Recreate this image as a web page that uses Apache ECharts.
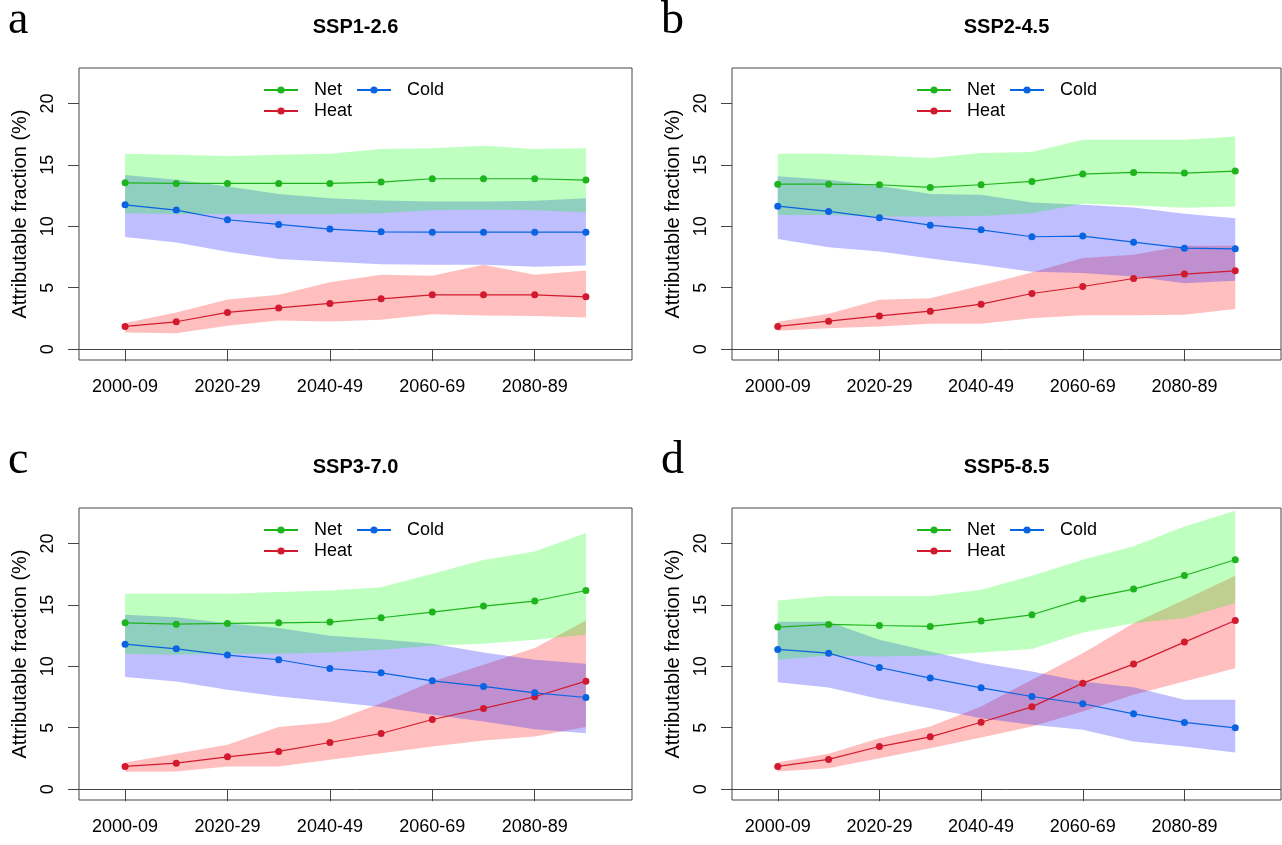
<!DOCTYPE html>
<html>
<head>
<meta charset="utf-8">
<script src="https://cdn.jsdelivr.net/npm/echarts@6/dist/echarts.min.js"></script>
<style>
  html, body { margin: 0; padding: 0; background: #fff; }
  #chart { width: 1282px; height: 845px; }
</style>
</head>
<body>
<div id="chart"></div>
<script>
// decade index 1..10 (2000-09 ... 2090-99)
var decades = [1, 2, 3, 4, 5, 6, 7, 8, 9, 10];
var tickPos = [1, 3, 5, 7, 9];
var tickLabels = ['2000-09', '2020-29', '2040-49', '2060-69', '2080-89'];
var yTicks = [0, 5, 10, 15, 20];

// SSP1-2.6
var a_net    = [13.54, 13.49, 13.49, 13.49, 13.49, 13.60, 13.87, 13.87, 13.87, 13.76];
var a_netHi  = [15.90, 15.82, 15.71, 15.82, 15.90, 16.28, 16.34, 16.55, 16.28, 16.36];
var a_netLo  = [11.07, 11.00, 11.00, 11.00, 11.00, 11.07, 11.30, 11.34, 11.30, 11.13];
var a_cold   = [11.75, 11.32, 10.53, 10.15, 9.77, 9.55, 9.52, 9.52, 9.52, 9.52];
var a_coldHi = [14.17, 13.79, 13.24, 12.62, 12.29, 12.10, 12.02, 12.02, 12.08, 12.29];
var a_coldLo = [9.12, 8.68, 7.92, 7.33, 7.11, 6.92, 6.87, 6.87, 6.70, 6.81];
var a_heat   = [1.85, 2.23, 2.99, 3.36, 3.72, 4.10, 4.42, 4.42, 4.42, 4.26];
var a_heatHi = [2.14, 2.99, 4.04, 4.42, 5.45, 6.05, 5.97, 6.87, 6.05, 6.40];
var a_heatLo = [1.36, 1.30, 1.90, 2.33, 2.25, 2.39, 2.85, 2.74, 2.71, 2.58];

// SSP2-4.5
var b_net    = [13.43, 13.43, 13.38, 13.16, 13.38, 13.65, 14.25, 14.38, 14.33, 14.49];
var b_netHi  = [15.90, 15.90, 15.77, 15.55, 15.96, 16.04, 17.04, 17.04, 17.04, 17.31];
var b_netLo  = [10.91, 10.91, 10.80, 10.80, 10.83, 11.07, 11.83, 11.70, 11.51, 11.61];
var b_cold   = [11.64, 11.21, 10.69, 10.09, 9.71, 9.15, 9.20, 8.71, 8.22, 8.17];
var b_coldHi = [14.08, 13.79, 13.30, 12.62, 12.56, 11.94, 11.75, 11.53, 11.02, 10.66];
var b_coldLo = [8.96, 8.30, 7.95, 7.38, 6.87, 6.30, 6.19, 5.92, 5.37, 5.56];
var b_heat   = [1.85, 2.28, 2.71, 3.09, 3.66, 4.53, 5.10, 5.75, 6.11, 6.38];
var b_heatHi = [2.23, 2.88, 4.02, 4.15, 5.18, 6.24, 7.41, 7.68, 8.41, 8.41];
var b_heatLo = [1.49, 1.71, 1.85, 2.06, 2.06, 2.52, 2.77, 2.77, 2.80, 3.28];

// SSP3-7.0
var c_net    = [13.54, 13.43, 13.49, 13.54, 13.60, 13.95, 14.41, 14.90, 15.31, 16.17];
var c_netHi  = [15.90, 15.90, 15.90, 16.04, 16.17, 16.44, 17.53, 18.64, 19.35, 20.84];
var c_netLo  = [11.02, 10.94, 11.02, 11.02, 11.13, 11.34, 11.67, 11.83, 12.16, 12.56];
var c_cold   = [11.80, 11.42, 10.91, 10.53, 9.82, 9.47, 8.82, 8.36, 7.84, 7.46];
var c_coldHi = [14.19, 14.00, 13.51, 13.11, 12.48, 12.21, 11.83, 11.13, 10.53, 10.20];
var c_coldLo = [9.12, 8.77, 8.09, 7.54, 7.14, 6.68, 6.05, 5.51, 4.88, 4.56];
var c_heat   = [1.85, 2.12, 2.63, 3.07, 3.80, 4.53, 5.67, 6.57, 7.52, 8.79];
var c_heatHi = [2.17, 2.88, 3.61, 5.05, 5.45, 7.00, 8.77, 10.12, 11.48, 13.73];
var c_heatLo = [1.41, 1.44, 1.85, 1.85, 2.39, 2.93, 3.47, 3.96, 4.29, 5.05];

// SSP5-8.5
var d_net    = [13.19, 13.41, 13.32, 13.24, 13.68, 14.19, 15.47, 16.28, 17.39, 18.67];
var d_netHi  = [15.36, 15.71, 15.71, 15.71, 16.23, 17.37, 18.67, 19.76, 21.38, 22.66];
var d_netLo  = [10.53, 10.88, 10.80, 10.88, 11.13, 11.40, 12.75, 13.51, 13.92, 15.14];
var d_cold   = [11.37, 11.07, 9.90, 9.04, 8.25, 7.54, 6.95, 6.13, 5.43, 4.99];
var d_coldHi = [13.62, 13.62, 12.16, 11.21, 10.26, 9.58, 8.77, 8.30, 7.27, 7.27];
var d_coldLo = [8.71, 8.28, 7.33, 6.59, 5.78, 5.24, 4.83, 3.88, 3.47, 2.99];
var d_heat   = [1.85, 2.42, 3.47, 4.26, 5.45, 6.70, 8.63, 10.18, 11.97, 13.73];
var d_heatHi = [2.20, 2.88, 4.15, 5.10, 6.73, 8.90, 11.07, 13.51, 15.41, 17.37];
var d_heatLo = [1.44, 1.71, 2.52, 3.34, 4.21, 5.10, 6.32, 7.68, 8.77, 9.85];

var NET = '#1EB41E', COLD = '#0A64E1', HEAT = '#D21A2E';
var FONT = 'Liberation Sans, Arial, sans-serif';

var panels = [
  { title: 'SSP1-2.6', letter: 'a', left: 79,  top: 68,  width: 553,
    net: a_net, netHi: a_netHi, netLo: a_netLo, cold: a_cold, coldHi: a_coldHi, coldLo: a_coldLo, heat: a_heat, heatHi: a_heatHi, heatLo: a_heatLo },
  { title: 'SSP2-4.5', letter: 'b', left: 732, top: 68,  width: 549,
    net: b_net, netHi: b_netHi, netLo: b_netLo, cold: b_cold, coldHi: b_coldHi, coldLo: b_coldLo, heat: b_heat, heatHi: b_heatHi, heatLo: b_heatLo },
  { title: 'SSP3-7.0', letter: 'c', left: 79,  top: 508, width: 553,
    net: c_net, netHi: c_netHi, netLo: c_netLo, cold: c_cold, coldHi: c_coldHi, coldLo: c_coldLo, heat: c_heat, heatHi: c_heatHi, heatLo: c_heatLo },
  { title: 'SSP5-8.5', letter: 'd', left: 732, top: 508, width: 549,
    net: d_net, netHi: d_netHi, netLo: d_netLo, cold: d_cold, coldHi: d_coldHi, coldLo: d_coldLo, heat: d_heat, heatHi: d_heatHi, heatLo: d_heatLo }
];
var gridH = 292;

function pairs(vals) {
  return vals.map(function (v, i) { return [decades[i], v]; });
}

// shaded range drawn as one polygon through the axis scales
function band(idx, lo, hi, color) {
  return {
    type: 'custom', xAxisIndex: idx, yAxisIndex: idx, silent: true, z: 1,
    data: decades.map(function (x, i) { return [x, lo[i], hi[i]]; }),
    encode: { x: 0, y: [1, 2] },
    renderItem: function (params, api) {
      if (params.dataIndex !== 0) return;
      var upper = [], lower = [];
      for (var i = 0; i < decades.length; i++) {
        upper.push(api.coord([decades[i], hi[i]]));
        lower.unshift(api.coord([decades[i], lo[i]]));
      }
      return { type: 'polygon', shape: { points: upper.concat(lower) }, style: { fill: color } };
    }
  };
}

function line(idx, name, vals, color) {
  return {
    type: 'line', name: name, xAxisIndex: idx, yAxisIndex: idx,
    data: pairs(vals), symbol: 'circle', symbolSize: 7, z: 3,
    lineStyle: { color: color, width: 1.2 }, itemStyle: { color: color }
  };
}

var grid = [], xAxis = [], yAxis = [], series = [], title = [], legend = [];

panels.forEach(function (p, i) {
  grid.push({ left: p.left, top: p.top, width: p.width, height: gridH,
    show: true, borderColor: '#444', borderWidth: 1, backgroundColor: 'transparent' });

  xAxis.push({
    type: 'value', gridIndex: i, min: 0.1, max: 10.9,
    axisLine: { show: false }, splitLine: { show: false },
    axisTick: { show: true, customValues: tickPos, length: 12, lineStyle: { color: '#444' } },
    axisLabel: { customValues: tickPos, margin: 18, fontSize: 18, color: '#000', fontFamily: FONT,
      formatter: function (v) { return tickLabels[tickPos.indexOf(v)]; } }
  });

  yAxis.push({
    type: 'value', gridIndex: i, min: -0.88, max: 22.88,
    axisLine: { show: false }, splitLine: { show: false },
    axisTick: { show: true, customValues: yTicks, length: 11, lineStyle: { color: '#444' } },
    axisLabel: { customValues: yTicks, rotate: 90, margin: 22, fontSize: 18, color: '#000', fontFamily: FONT },
    name: 'Attributable fraction (%)', nameLocation: 'middle', nameGap: 49,
    nameTextStyle: { fontSize: 20, color: '#000', fontFamily: FONT }
  });

  series.push(band(i, p.heatLo, p.heatHi, 'rgba(255,0,0,0.25)'));
  series.push(band(i, p.coldLo, p.coldHi, 'rgba(0,0,255,0.25)'));
  series.push(band(i, p.netLo, p.netHi, 'rgba(0,255,0,0.25)'));
  var heatLine = line(i, 'Heat', p.heat, HEAT);
  heatLine.markLine = { symbol: 'none', silent: true, label: { show: false },
    lineStyle: { color: '#444', type: 'solid', width: 1 }, data: [{ yAxis: 0 }] };
  series.push(heatLine, line(i, 'Cold', p.cold, COLD), line(i, 'Net', p.net, NET));

  var cx = p.left + p.width / 2;
  title.push({ text: p.title, left: cx, top: p.top - 51, textAlign: 'center', padding: 0,
    textStyle: { fontSize: 20, fontWeight: 'bold', color: '#000', fontFamily: FONT } });
  title.push({ text: p.letter, left: p.left - 71, top: p.top - 70, padding: 0,
    textStyle: { fontSize: 46, fontWeight: 'normal', color: '#000', fontFamily: 'Liberation Serif, Times New Roman, serif' } });

  var lg = { orient: 'horizontal', padding: 0, itemWidth: 34, itemHeight: 9, selectedMode: false,
    textStyle: { fontSize: 18, color: '#000', fontFamily: FONT, padding: [0, 0, 0, 11] } };
  legend.push(Object.assign({}, lg, { data: ['Net'],  left: p.left + 184, top: p.top + 13 }));
  legend.push(Object.assign({}, lg, { data: ['Cold'], left: p.left + 277, top: p.top + 13 }));
  legend.push(Object.assign({}, lg, { data: ['Heat'], left: p.left + 184, top: p.top + 34 }));
});

var chart = echarts.init(document.getElementById('chart'), null, { renderer: 'canvas' });
chart.setOption({
  animation: false,
  backgroundColor: '#fff',
  title: title,
  legend: legend,
  grid: grid,
  xAxis: xAxis,
  yAxis: yAxis,
  series: series
});
</script>
</body>
</html>
